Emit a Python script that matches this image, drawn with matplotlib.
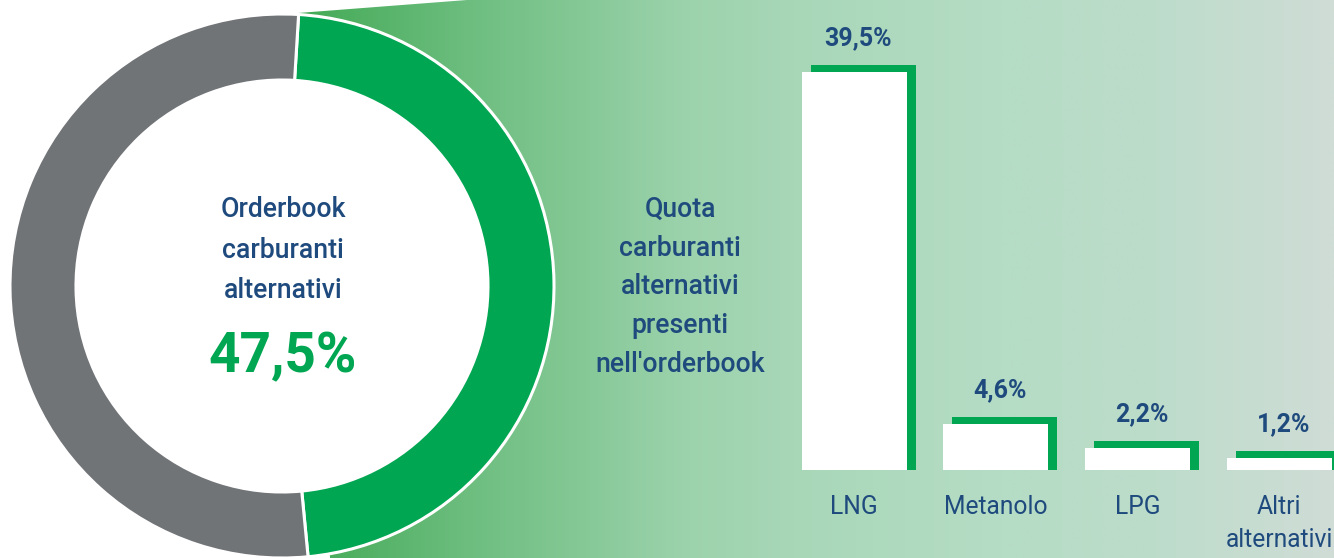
import numpy as np
import matplotlib
matplotlib.use("Agg")
import matplotlib.pyplot as plt
from matplotlib.colors import LinearSegmentedColormap
from matplotlib.patches import Polygon, Circle

# ---------------- data ----------------
donut_labels = ["Carburanti alternativi", "Altri carburanti"]
donut_values = [47.5, 52.5]
categories = ["LNG", "Metanolo", "LPG", "Altri\nalternativi"]
values = [39.5, 4.6, 2.2, 1.2]
value_labels = ["39,5%", "4,6%", "2,2%", "1,2%"]
center_title = "Orderbook\ncarburanti\nalternativi"
center_value = "47,5%"
side_title = "Quota\ncarburanti\nalternativi\npresenti\nnell'orderbook"

# ---------------- style ----------------
GREEN = "#00a651"
GREY = "#717477"
BLUE = "#1f4a7d"
W, H = 1334, 558

plt.rcParams['font.family'] = ['Roboto', 'DejaVu Sans']
fig = plt.figure(figsize=(W / 100, H / 100), dpi=100)
fig.patch.set_facecolor("white")


def Y(y):
    return H - y


bg = fig.add_axes([0, 0, 1, 1])

# gradient funnel background
cmap = LinearSegmentedColormap.from_list(
    "funnel",
    [(0.0, "#43aa56"), (0.176, "#70bf82"), (0.37, "#9bd2ab"),
     (0.48, "#a8d7b8"), (0.66, "#b4dcc4"), (0.82, "#bcdcca"), (1.0, "#cfddd6")])
grad = np.linspace(0, 1, 600)[None, :]
im = bg.imshow(grad, cmap=cmap, extent=(298, W, 0, H), aspect='auto',
               origin='lower', zorder=0, interpolation='bilinear')
poly = Polygon([(298, Y(13)), (467, Y(0)), (W, Y(0)), (W, 0), (330, 0)],
               closed=True, transform=bg.transData, facecolor='none', edgecolor='none')
bg.add_patch(poly)
im.set_clip_path(poly)

# donut
bg.pie(donut_values, colors=[GREEN, GREY], startangle=86.5, counterclock=False,
       center=(282, Y(286)), radius=272,
       wedgeprops=dict(width=66, edgecolor='white', linewidth=2.2))
bg.add_patch(Circle((282, Y(286)), 206, facecolor='white', edgecolor='none', zorder=0.5))

bg.set_xlim(0, W)
bg.set_ylim(0, H)
bg.set_aspect('auto')
bg.axis('off')

bg.text(283, Y(250), center_title, ha='center', va='center', fontsize=19.2,
        fontweight='medium', color=BLUE, linespacing=1.66, zorder=5)
bg.text(283, Y(357), center_value, ha='center', va='center', fontsize=39.5,
        fontweight='bold', color=GREEN, zorder=5)
bg.text(680, Y(287), side_title, ha='center', va='center', fontsize=19.2,
        fontweight='medium', color=BLUE, linespacing=1.56, zorder=5)

# bars
ax = fig.add_axes([790 / W, 88 / H, 544 / W, 470 / H])
ax.patch.set_alpha(0)
px_x = 141.7
px_y = 10.08
x0 = -(854 - 790) / px_x
ax.set_xlim(x0, x0 + 544 / px_x)
ax.set_ylim(0, 470 / px_y)
ax.axis('off')

x = np.arange(len(categories))
vals = np.array(values)
bw = 105 / px_x
dx = 9 / px_x
dy = 7 / px_y
ax.bar(x + dx, vals + dy, width=bw, color=GREEN, zorder=1)
ax.bar(x, vals, width=bw, color='white', zorder=2)

for xi, v, lbl in zip(x, vals, value_labels):
    ax.annotate(lbl, (xi + dx / 2, v + dy), xytext=(0, 19), textcoords='offset points',
                ha='center', va='center', fontsize=18, fontweight='bold', color=BLUE,
                annotation_clip=False)

line_step_pt = 33 * 0.72
for xi, cat in zip(x, categories):
    n_extra = cat.count("\n")
    ax.annotate(cat, (xi, 0), xytext=(0, -31.7 - n_extra * line_step_pt),
                textcoords='offset points', ha='center', va='baseline',
                fontsize=17.7, color=BLUE, linespacing=1.45, annotation_clip=False)

fig.savefig("out.png", dpi=100)
